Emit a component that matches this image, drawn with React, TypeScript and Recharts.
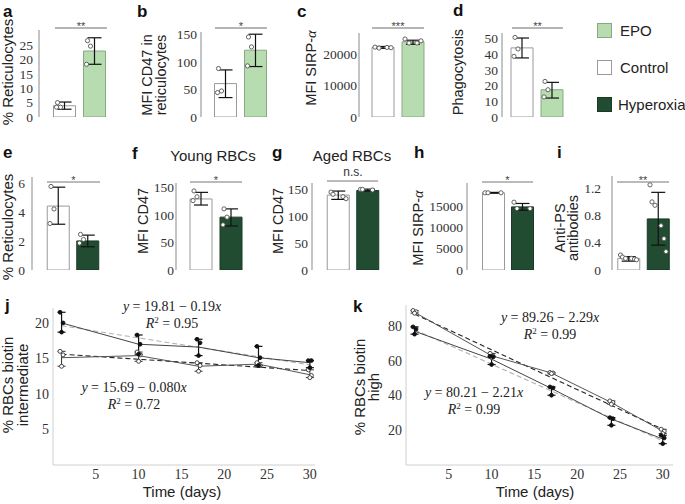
import React from 'react'
import { Bar, Cell, ComposedChart, ErrorBar, Line, Scatter, XAxis, YAxis } from 'recharts'

const SANS = '"Liberation Sans", Arial, sans-serif'
const SERIF = '"Liberation Serif", "Times New Roman", serif'

const groupsEPO = ['Control', 'EPO']
const groupsHyper = ['Control', 'Hyperoxia']

// a  % reticulocytes (EPO)
const aMeans = [3.9, 22.9]
const aLows = [2.7, 18.3]
const aHighs = [5.2, 27.5]
const aPoints = [[5.0, 3.4, 3.4], [26.5, 24.6, 18.3]]
const aTicks = [0, 5, 10, 15, 20, 25]

// b  MFI CD47 in reticulocytes (EPO)
const bMeans = [60.5, 121]
const bLows = [35.2, 91.4]
const bHighs = [85.3, 150]
const bPoints = [[87.8, 47.2, 44.3], [145, 127, 92.6]]
const bTicks = [0, 50, 100, 150]

// c  MFI SIRP-a (EPO)
const cMeans = [22200, 24000]
const cLows = [21900, 23200]
const cHighs = [22500, 24500]
const cPoints = [[22300, 22000, 22200, 22100], [24900, 23600, 23600, 24300]]
const cTicks = [0, 10000, 20000]

// d  phagocytosis (EPO)
const dMeans = [44.1, 17.4]
const dLows = [37.7, 12.1]
const dHighs = [50.4, 22.1]
const dPoints = [[50.8, 43.4, 38.7], [22.7, 17.4, 12.8]]
const dTicks = [0, 10, 20, 30, 40, 50]

// e  % reticulocytes (hyperoxia)
const eMeans = [4.4, 2.0]
const eLows = [3.15, 1.6]
const eHighs = [5.7, 2.4]
const ePoints = [[5.75, 4.2, 3.2], [2.45, 2.1, 1.85]]
const eTicks = [0, 2, 4, 6]

// f  young RBCs CD47
const fMeans = [129, 96]
const fLows = [118, 80]
const fHighs = [141, 111]
const fPoints = [[143.6, 133, 126], [111, 96, 82]]
const fTicks = [0, 50, 100, 150]

// g  aged RBCs CD47
const gMeans = [139.5, 148]
const gLows = [131.5, 147]
const gHighs = [147, 150.6]
const gPoints = [[145, 141, 136.6, 132.8], [150, 150, 149]]
const gTicks = [0, 50, 100, 150]

// h  MFI SIRP-a (hyperoxia)
const hMeans = [18100, 14800]
const hLows = [18000, 14000]
const hHighs = [18200, 15600]
const hPoints = [[18100, 18100, 18100], [15900, 14400, 14400]]
const hTicks = [0, 5000, 10000, 15000]

// i  anti-PS antibodies
const iMeans = [0.17, 0.75]
const iLows = [0.13, 0.365]
const iHighs = [0.196, 1.14]
const iPoints = [[0.22, 0.19, 0.17, 0.17, 0.16, 0.15], [1.25, 1.0, 0.95, 0.65, 0.46, 0.27]]
const iTicks = [0, 0.4, 0.8, 1.2]

// j / k  biotin time course
const days = [1, 10, 17, 24, 30]
const fitDays = [1, 30]
const timeTicks = [5, 10, 15, 20, 25, 30]

const jHyperMean = [20.0, 17.0, 16.6, 15.1, 14.4]
const jHyperLow = [18.7, 15.6, 15.4, 14.0, 13.7]
const jHyperHigh = [21.5, 18.3, 17.7, 16.7, 14.7]
const jHyperPts = [[21.5, 20.0, 18.7], [18.3, 17.0, 15.6], [17.7, 17.2, 15.4], [16.7, 15.1, 14.0], [14.7, 14.7, 13.7]]
const jCtrlMean = [15.1, 15.4, 13.9, 14.2, 12.7]
const jCtrlLow = [13.9, 14.6, 13.2, 14.0, 12.3]
const jCtrlHigh = [16.0, 15.9, 14.4, 14.4, 13.4]
const jCtrlPts = [[16.0, 15.5, 13.9], [15.9, 15.5, 14.6], [14.4, 14.0, 13.2], [14.4, 14.0, 14.0], [13.4, 12.6, 12.3]]
const jHyperFit = [19.6, 14.1]
const jCtrlFit = [15.6, 13.3]
const jTicks = [5, 10, 15, 20]

const kCtrlMean = [88.0, 63.0, 53.0, 36.0, 19.5]
const kCtrlLow = [87.5, 62.0, 52.5, 35.0, 18.1]
const kCtrlHigh = [89.0, 64.3, 53.3, 36.9, 20.6]
const kCtrlPts = [[89.0, 88.3, 87.5], [64.3, 62.7, 62.0], [53.3, 53.0, 52.7], [36.9, 36.0, 35.0], [20.6, 19.4, 18.1]]
const kHyperMean = [77.1, 61.0, 44.1, 26.5, 15.0]
const kHyperLow = [75.4, 57.9, 40.2, 22.9, 12.3]
const kHyperHigh = [79.6, 62.7, 45.0, 27.3, 17.1]
const kHyperPts = [[79.6, 78.3, 75.4], [62.7, 62.3, 57.9], [45.0, 44.4, 40.2], [27.3, 26.7, 22.9], [17.1, 15.6, 12.3]]
const kCtrlFit = [87.0, 20.6]
const kHyperFit = [78.0, 13.9]
const kTicks = [20, 40, 60, 80]

const jFitTop = ['19.81', '0.19', '0.95']
const jFitBottom = ['15.69', '0.080', '0.72']
const kFitTop = ['89.26', '2.29', '0.99']
const kFitBottom = ['80.21', '2.21', '0.99']

const CTRL = '#ffffff'
const CTRL_LINE = '#9a9a9a'
const EPO = '#b6dcb0'
const EPO_LINE = '#8aa886'
const HYPER = '#224c31'
const HYPER_LINE = '#183a24'

function buildRows(groups: string[], means: number[], lows: number[], highs: number[], points: number[][]) {
  return groups.map((name, i) => {
    const row: Record<string, any> = { name, mean: means[i], err: [means[i] - lows[i], highs[i] - means[i]] }
    points[i].forEach((v, k) => {
      row['p' + k] = v
    })
    return row
  })
}

function dot(dx: number, fill: string, stroke: string, r = 2.1) {
  return (props: any) => {
    const { cx, cy } = props
    if (!Number.isFinite(cx) || !Number.isFinite(cy)) return <g />
    return <circle cx={cx + dx} cy={cy} r={r} fill={fill} stroke={stroke} strokeWidth={0.9} />
  }
}

// serif tick labels drawn by hand so the font is applied
function serifTick(size: number, anchor: 'end' | 'middle', dy: string) {
  return (props: any) => (
    <text x={props.x} y={props.y} dy={dy} textAnchor={anchor} fontFamily={SERIF} fontSize={size} fill="#333">
      {props.payload.value}
    </text>
  )
}

type BarPanelProps = {
  plot: number[]
  centers: number[]
  domain: number[]
  ticks: number[]
  rows: Record<string, any>[]
  fills: string[]
  strokes: string[]
  jitter?: number[]
  errColor?: string
  tickMargin?: number
  fontSize?: number
}

function BarPanel({ plot, centers, domain, ticks, rows, fills, strokes, jitter = [-7, -4, -8, -3, -6, -2], errColor = '#111', tickMargin = 4, fontSize = 13.5 }: BarPanelProps) {
  const [l, t, r, b] = plot
  const YW = 44
  const MT = 4
  const MR = 2
  const MB = 10
  const band = centers[1] - centers[0]
  const padL = centers[0] - l - band / 2
  const right = Math.max(r, l + padL + 2 * band)
  const padR = right - l - padL - 2 * band
  const nPts = Math.max(...rows.map((row) => Object.keys(row).filter((k) => k.startsWith('p')).length))
  return (
    <div style={{ position: 'absolute', left: l - YW, top: t - MT }}>
      <ComposedChart width={right - l + YW + MR} height={b - t + MT + MB} data={rows} margin={{ top: MT, right: MR, bottom: MB, left: 0 }}>
        <XAxis dataKey="name" height={0} tick={false} tickLine={false} axisLine={{ stroke: '#8a8a8a' }} padding={{ left: padL, right: padR }} />
        <YAxis
          width={YW}
          domain={domain}
          ticks={ticks}
          interval={0}
          allowDataOverflow
          tickLine={false}
          tickSize={0}
          tickMargin={tickMargin}
          axisLine={{ stroke: '#8a8a8a' }}
          tick={serifTick(fontSize, 'end', '0.35em')}
        />
        <Bar dataKey="mean" barSize={22} isAnimationActive={false}>
          {rows.map((_, i) => (
            <Cell key={i} fill={fills[i]} stroke={strokes[i]} strokeWidth={1} />
          ))}
          <ErrorBar dataKey="err" width={7} stroke={errColor} strokeWidth={1.2} />
        </Bar>
        {Array.from({ length: nPts }, (_, k) => (
          <Scatter key={k} dataKey={'p' + k} isAnimationActive={false} shape={dot(jitter[k % jitter.length], '#fff', '#555')} />
        ))}
      </ComposedChart>
    </div>
  )
}

function meanRows(mean: number[], low: number[], high: number[]) {
  return days.map((x, i) => ({ x, y: mean[i], err: [mean[i] - low[i], high[i] - mean[i]] }))
}
function ptRows(pts: number[][], k: number) {
  return days.map((x, i) => ({ x, y: pts[i][k] }))
}
function fitRows(vals: number[]) {
  return fitDays.map((x, i) => ({ x, y: vals[i] }))
}

type Series = { mean: number[]; low: number[]; high: number[]; pts: number[][] }

function TimePanel({ plot, xMax, yMax, yTicks, ctrl, hyper, ctrlFit, hyperFit }: { plot: number[]; xMax: number; yMax: number; yTicks: number[]; ctrl: Series; hyper: Series; ctrlFit: number[]; hyperFit: number[] }) {
  const [l, t, r, b] = plot
  const YW = 40
  const MT = 4
  const MR = 2
  const XH = 22
  const jit = [-1.5, 1.5, 0]
  return (
    <div style={{ position: 'absolute', left: l - YW, top: t - MT }}>
      <ComposedChart width={r - l + YW + MR} height={b - t + MT + XH} margin={{ top: MT, right: MR, bottom: 0, left: 0 }}>
        <XAxis
          type="number"
          dataKey="x"
          domain={[0, xMax]}
          ticks={timeTicks}
          interval={0}
          allowDataOverflow
          height={XH}
          tickLine={false}
          tickSize={3}
          tickMargin={1}
          axisLine={{ stroke: '#d0d0d0' }}
          tick={serifTick(14, 'middle', '0.71em')}
        />
        <YAxis
          type="number"
          width={YW}
          domain={[0, yMax]}
          ticks={yTicks}
          interval={0}
          allowDataOverflow
          tickLine={false}
          tickSize={0}
          tickMargin={4}
          axisLine={{ stroke: '#d0d0d0' }}
          tick={serifTick(14, 'end', '0.35em')}
        />
        <Line data={fitRows(hyperFit)} dataKey="y" stroke="#b0b0b0" strokeWidth={1.1} strokeDasharray="5 3" dot={false} isAnimationActive={false} />
        <Line data={fitRows(ctrlFit)} dataKey="y" stroke="#222" strokeWidth={1.1} strokeDasharray="5 3" dot={false} isAnimationActive={false} />
        <Line data={meanRows(ctrl.mean, ctrl.low, ctrl.high)} dataKey="y" stroke="#555" strokeWidth={1} dot={false} isAnimationActive={false}>
          <ErrorBar dataKey="err" direction="y" width={4} stroke="#333" strokeWidth={1} />
        </Line>
        <Line data={meanRows(hyper.mean, hyper.low, hyper.high)} dataKey="y" stroke="#444" strokeWidth={1} dot={false} isAnimationActive={false}>
          <ErrorBar dataKey="err" direction="y" width={4} stroke="#111" strokeWidth={1.2} />
        </Line>
        {[0, 1, 2].map((k) => (
          <Scatter key={'c' + k} data={ptRows(ctrl.pts, k)} dataKey="y" isAnimationActive={false} shape={dot(jit[k], '#fff', '#333', 2)} />
        ))}
        {[0, 1, 2].map((k) => (
          <Scatter key={'h' + k} data={ptRows(hyper.pts, k)} dataKey="y" isAnimationActive={false} shape={dot(jit[k], '#111', '#111', 1.9)} />
        ))}
      </ComposedChart>
    </div>
  )
}

function VText({ x, y, children, size = 15 }: { x: number; y: number; children: React.ReactNode; size?: number }) {
  return (
    <text transform={`translate(${x},${y}) rotate(-90)`} textAnchor="middle" fontFamily={SANS} fontSize={size} fill="#222">
      {children}
    </text>
  )
}

function Letter({ x, y, c }: { x: number; y: number; c: string }) {
  return (
    <text x={x} y={y} fontFamily={SANS} fontSize={17} fontWeight="bold" fill="#111">
      {c}
    </text>
  )
}

function Sig({ x1, x2, y, label, color, w, size = 11 }: { x1: number; x2: number; y: number; label: string; color: string; w: number; size?: number }) {
  return (
    <g>
      <line x1={x1} x2={x2} y1={y} y2={y} stroke={color} strokeWidth={w} />
      <text x={(x1 + x2) / 2} y={y + 1.5} textAnchor="middle" fontFamily={SANS} fontSize={size} fill="#444">
        {label}
      </text>
    </g>
  )
}

function FitText({ x, y, v }: { x: number; y: number; v: string[] }) {
  return (
    <g fontFamily={SERIF} fontSize={14} fill="#222" textAnchor="middle">
      <text x={x} y={y}>
        <tspan fontStyle="italic">y</tspan> = {v[0]} − {v[1]}
        <tspan fontStyle="italic">x</tspan>
      </text>
      <text x={x} y={y + 17}>
        <tspan fontStyle="italic">R</tspan>
        <tspan dy={-5} fontSize={9}>2</tspan>
        <tspan dy={5}> = {v[2]}</tspan>
      </text>
    </g>
  )
}

const alpha = (
  <tspan fontFamily={SERIF} fontStyle="italic">
    α
  </tspan>
)

export default function App() {
  const epoFills = [CTRL, EPO]
  const epoStrokes = [CTRL_LINE, EPO_LINE]
  const hyFills = [CTRL, HYPER]
  const hyStrokes = [CTRL_LINE, HYPER_LINE]
  return (
    <div style={{ position: 'absolute', left: 0, top: 0, width: 685, height: 504, background: '#fff', overflow: 'hidden' }}>
      <BarPanel plot={[39, 30, 108, 117]} centers={[64.5, 94.5]} domain={[0, 30.2]} ticks={aTicks} rows={buildRows(groupsEPO, aMeans, aLows, aHighs, aPoints)} fills={epoFills} strokes={epoStrokes} tickMargin={6} />
      <BarPanel plot={[201, 32, 269, 117]} centers={[225.5, 255.5]} domain={[0, 154]} ticks={bTicks} rows={buildRows(groupsEPO, bMeans, bLows, bHighs, bPoints)} fills={epoFills} strokes={epoStrokes} />
      <BarPanel plot={[359, 33, 428, 117]} centers={[383, 413]} domain={[0, 26800]} ticks={cTicks} rows={buildRows(groupsEPO, cMeans, cLows, cHighs, cPoints)} fills={epoFills} strokes={epoStrokes} jitter={[-8, -4, 4, 8]} tickMargin={2} />
      <BarPanel plot={[502, 33, 573, 117]} centers={[522, 552]} domain={[0, 53.6]} ticks={dTicks} rows={buildRows(groupsEPO, dMeans, dLows, dHighs, dPoints)} fills={epoFills} strokes={epoStrokes} />

      <BarPanel plot={[32, 177, 103, 270]} centers={[58, 87.5]} domain={[0, 6.4]} ticks={eTicks} rows={buildRows(groupsHyper, eMeans, eLows, eHighs, ePoints)} fills={hyFills} strokes={hyStrokes} tickMargin={7} />
      <BarPanel plot={[176, 183, 246, 270]} centers={[201, 231]} domain={[0, 158]} ticks={fTicks} rows={buildRows(groupsHyper, fMeans, fLows, fHighs, fPoints)} fills={hyFills} strokes={hyStrokes} tickMargin={2} />
      <BarPanel plot={[312, 183, 382, 270]} centers={[338, 367.5]} domain={[0, 162]} ticks={gTicks} rows={buildRows(groupsHyper, gMeans, gLows, gHighs, gPoints)} fills={hyFills} strokes={hyStrokes} jitter={[-7, -5, 5, 8]} />
      <BarPanel plot={[467, 183, 537, 270]} centers={[493, 522]} domain={[0, 20400]} ticks={hTicks} rows={buildRows(groupsHyper, hMeans, hLows, hHighs, hPoints)} fills={hyFills} strokes={hyStrokes} jitter={[-8, -5, 8]} />
      <BarPanel plot={[612, 176, 673, 270]} centers={[628.5, 658]} domain={[0, 1.38]} ticks={iTicks} rows={buildRows(groupsHyper, iMeans, iLows, iHighs, iPoints)} fills={hyFills} strokes={hyStrokes} jitter={[-8, -6, -3, 3, 6, 8]} tickMargin={11} />

      <TimePanel
        plot={[53, 308, 315, 465]}
        xMax={30.6}
        yMax={22.1}
        yTicks={jTicks}
        ctrl={{ mean: jCtrlMean, low: jCtrlLow, high: jCtrlHigh, pts: jCtrlPts }}
        hyper={{ mean: jHyperMean, low: jHyperLow, high: jHyperHigh, pts: jHyperPts }}
        ctrlFit={jCtrlFit}
        hyperFit={jHyperFit}
      />
      <TimePanel
        plot={[406, 305, 673, 465]}
        xMax={31.2}
        yMax={92.2}
        yTicks={kTicks}
        ctrl={{ mean: kCtrlMean, low: kCtrlLow, high: kCtrlHigh, pts: kCtrlPts }}
        hyper={{ mean: kHyperMean, low: kHyperLow, high: kHyperHigh, pts: kHyperPts }}
        ctrlFit={kCtrlFit}
        hyperFit={kHyperFit}
      />

      <svg width={685} height={504} style={{ position: 'absolute', left: 0, top: 0, pointerEvents: 'none' }}>
        <Letter x={3} y={17} c="a" />
        <Letter x={137} y={17} c="b" />
        <Letter x={297} y={17} c="c" />
        <Letter x={453} y={16} c="d" />
        <Letter x={3} y={158} c="e" />
        <Letter x={132} y={159} c="f" />
        <Letter x={272} y={158} c="g" />
        <Letter x={414} y={158} c="h" />
        <Letter x={557} y={158} c="i" />
        <Letter x={5} y={311} c="j" />
        <Letter x={353} y={312} c="k" />

        <VText x={13} y={72}>% Reticulocytes</VText>
        <VText x={152} y={75} size={14.5}>MFI CD47 in</VText>
        <VText x={166} y={75} size={14.5}>reticulocytes</VText>
        <VText x={316} y={68} size={14.5}>MFI SIRP-{alpha}</VText>
        <VText x={463} y={72} size={14.5}>Phagocytosis</VText>
        <VText x={13} y={227}>% Reticulocytes</VText>
        <VText x={148} y={221} size={14.5}>MFI CD47</VText>
        <VText x={283} y={221} size={14.5}>MFI CD47</VText>
        <VText x={423} y={228} size={14.5}>MFI SIRP-{alpha}</VText>
        <VText x={565} y={228} size={14.5}>Anti-PS</VText>
        <VText x={578} y={228} size={14.5}>antibodies</VText>
        <VText x={13} y={385}>% RBCs biotin</VText>
        <VText x={28} y={385}>intermediate</VText>
        <VText x={365} y={387}>% RBCs biotin</VText>
        <VText x={379} y={387}>high</VText>

        <Sig x1={55} x2={107} y={28} label="**" color="#b5b5b5" w={2} />
        <Sig x1={215} x2={267} y={28} label="*" color="#b5b5b5" w={2} />
        <Sig x1={372} x2={424} y={28} label="***" color="#b5b5b5" w={2} />
        <Sig x1={512} x2={563} y={28} label="**" color="#b5b5b5" w={2} />
        <Sig x1={47} x2={100} y={182} label="*" color="#777" w={1} />
        <Sig x1={190} x2={242} y={182} label="*" color="#777" w={1} />
        <line x1={327} x2={378} y1={181} y2={181} stroke="#777" strokeWidth={1} />
        <text x={353} y={176} textAnchor="middle" fontFamily={SANS} fontSize={12} fill="#333">n.s.</text>
        <Sig x1={482} x2={533} y={182} label="*" color="#777" w={1} />
        <Sig x1={617} x2={669} y={182} label="**" color="#777" w={1} />

        <text x={213} y={161} textAnchor="middle" fontFamily={SANS} fontSize={15} fill="#222">Young RBCs</text>
        <text x={352} y={161} textAnchor="middle" fontFamily={SANS} fontSize={15} fill="#222">Aged RBCs</text>

        <rect x={597.5} y={23.5} width={14} height={14} fill={EPO} stroke={EPO_LINE} />
        <rect x={597.5} y={60.5} width={14} height={14} fill={CTRL} stroke={CTRL_LINE} />
        <rect x={597.5} y={97.5} width={14} height={14} fill={HYPER} stroke={HYPER_LINE} />
        <text x={620} y={36} fontFamily={SANS} fontSize={15} fill="#222">EPO</text>
        <text x={620} y={73} fontFamily={SANS} fontSize={15} fill="#222">Control</text>
        <text x={618} y={110} fontFamily={SANS} fontSize={15} fill="#222">Hyperoxia</text>

        <FitText x={172} y={311} v={jFitTop} />
        <FitText x={134} y={392} v={jFitBottom} />
        <FitText x={550} y={322} v={kFitTop} />
        <FitText x={474} y={397} v={kFitBottom} />

        <text x={182} y={497} textAnchor="middle" fontFamily={SANS} fontSize={15} fill="#222">Time (days)</text>
        <text x={535} y={497} textAnchor="middle" fontFamily={SANS} fontSize={15} fill="#222">Time (days)</text>
      </svg>
    </div>
  )
}
